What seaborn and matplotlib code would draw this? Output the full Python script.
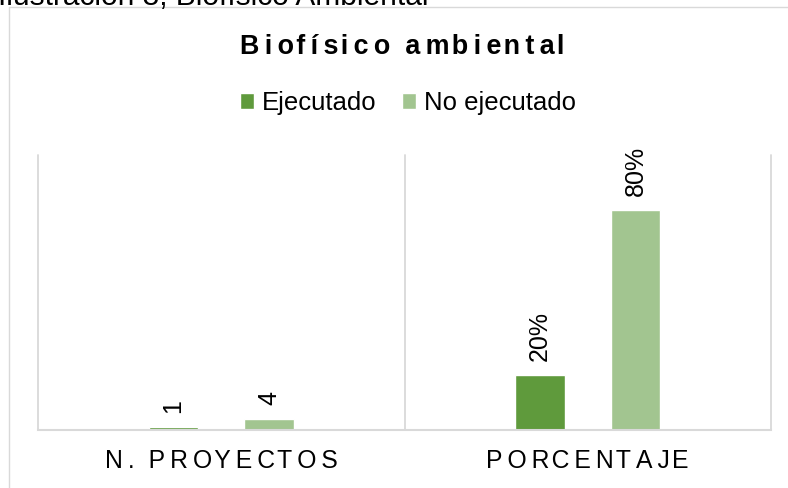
import matplotlib
matplotlib.use('Agg')
import matplotlib.pyplot as plt
import seaborn as sns
import pandas as pd
from matplotlib.lines import Line2D

# Datos del gráfico
categorias = ['N. PROYECTOS', 'PORCENTAJE']
series = ['Ejecutado', 'No ejecutado']
ejecutado = [1, 20]
no_ejecutado = [4, 80]
etiquetas_ejecutado = ['1', '20%']
etiquetas_no_ejecutado = ['4', '80%']
colores = ['#5f9a3c', '#a2c590']

sns.set_theme(style='white')
plt.rcParams['font.family'] = ['Liberation Sans', 'DejaVu Sans']
plt.rcParams['text.color'] = 'black'
plt.rcParams['xtick.color'] = 'black'


def espaciar(texto):
    # espaciado entre letras: espacios finos y de pelo alternados
    seps = ['\u2009', '\u2009', '\u200a']
    salida = texto[0]
    for i, ch in enumerate(texto[1:]):
        salida += seps[i % 3] + ch
    return salida


df = pd.DataFrame({
    'categoria': categorias * 2,
    'serie': [series[0]] * len(categorias) + [series[1]] * len(categorias),
    'valor': ejecutado + no_ejecutado,
})

fig = plt.figure(figsize=(7.88, 4.88), dpi=100)
ax = fig.add_axes([38 / 788, 58 / 488, 733 / 788, 275 / 488])

sns.barplot(data=df, x='categoria', y='valor', hue='serie', order=categorias,
            hue_order=series, palette=colores, width=0.52, gap=0.48,
            saturation=1, ax=ax)

handles, labels = ax.get_legend_handles_labels()
ax.get_legend().remove()

# etiquetas de datos verticales
for cont, etiquetas in zip(ax.containers, [etiquetas_ejecutado, etiquetas_no_ejecutado]):
    ax.bar_label(cont, labels=etiquetas, rotation=90, padding=10,
                 fontsize=18, color='black')

ax.set_ylim(0, 100)
ax.set_xlim(-0.5, 1.5)
ax.set_yticks([])
ax.set_xlabel('')
ax.set_ylabel('')
ax.set_xticks(range(len(categorias)))
ax.set_xticklabels([espaciar(c) for c in categorias], fontsize=17.8, color='black')
ax.tick_params(axis='x', length=0, pad=14)

for lado in ['left', 'right', 'top']:
    ax.spines[lado].set_visible(False)
ax.spines['bottom'].set_color('#d9d9d9')
ax.spines['bottom'].set_linewidth(1.5)
for x in [-0.5, 0.5, 1.5]:
    ax.axvline(x, color='#d9d9d9', lw=1.3, clip_on=False)

# título y leyenda
fig.text(402 / 788, 1 - 54 / 488, espaciar('Biofísico ambiental'), ha='center',
         va='baseline', fontsize=19.4, fontweight='bold', color='black')
fig.legend(handles, labels, loc='center', bbox_to_anchor=(408 / 788, 1 - 103 / 488),
           ncol=2, frameon=False, fontsize=18.5, handlelength=0.55,
           handleheight=0.55, handletextpad=0.3, columnspacing=1.0,
           labelcolor='black')

# leyenda de la ilustración recortada arriba
fig.text(-2 / 788, 1 - 5 / 488, 'Ilustración 3, Biofísico Ambiental', ha='left',
         va='baseline', fontsize=21.5, color='black')

# marco del área del gráfico
fig.add_artist(Line2D([9 / 788, 1], [1 - 7 / 488] * 2, transform=fig.transFigure,
                      color='#d9d9d9', lw=1))
fig.add_artist(Line2D([9 / 788, 9 / 788], [0, 1 - 7 / 488], transform=fig.transFigure,
                      color='#d9d9d9', lw=1))

fig.savefig('out.png', dpi=100, facecolor='white')
